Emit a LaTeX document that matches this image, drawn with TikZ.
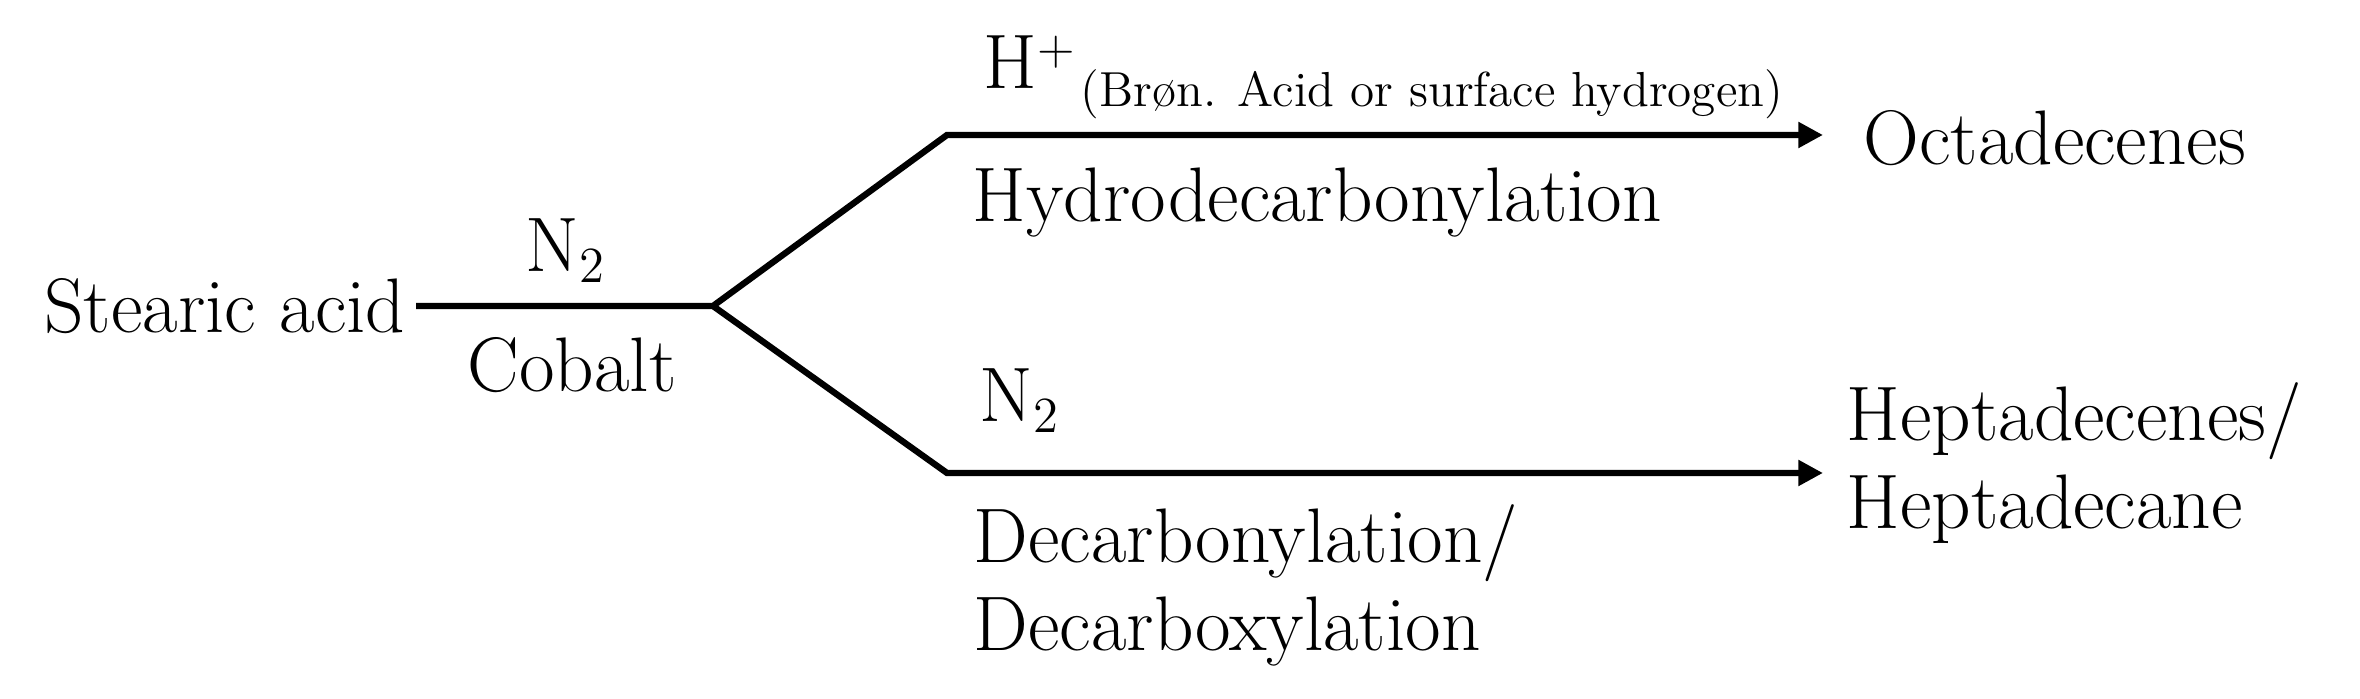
\documentclass[tikz,border=0pt]{standalone}
\usetikzlibrary{arrows.meta}

\begin{document}
\begin{tikzpicture}[
		conn/.style = {draw=black, line width=1.8pt},
		lbl/.style = {inner sep=0pt, font=\fontsize{22}{25.3}\selectfont},
		prod/.style = {lbl, align=left},
		tip/.style = {-{Triangle[length=7pt, width=7pt]}}
                    ]
		\useasboundingbox (0,0) rectangle (23.6,6.99);

		\coordinate (br) at (7.13,3.93);
		\coordinate (uc) at (9.47,5.64);
		\coordinate (ut) at (18.23,5.64);
		\coordinate (lc) at (9.47,2.26);
		\coordinate (lt) at (18.23,2.26);

		\node(SA) [lbl, inner xsep=1mm, anchor=east] at (4.16,3.93) {Stearic acid};
		\node(N2a) [lbl, anchor=base] at (5.66,4.27) {N$_2$};
		\node(Co) [lbl, anchor=base] at (5.72,3.07) {Cobalt};

		\node(Hp) [lbl, anchor=base west] at (9.83,6.10)
			{H\raisebox{0.24cm}{\fontsize{14}{14}\selectfont +}\hspace{0.06cm}%
			 \raisebox{-0.18cm}{\fontsize{14}{16}\selectfont (Brøn. Acid or surface hydrogen)}};
		\node(HD) [lbl, anchor=base west] at (9.72,4.77) {Hydrodecarbonylation};
		\node(OD) [lbl, anchor=base west] at (18.63,5.34) {Octadecenes};

		\node(N2b) [lbl, anchor=base west] at (9.79,2.77) {N$_2$};
		% base of a two-line node is its last line
		\node(HP) [prod, anchor=base west] at (18.46,1.70) {Heptadecenes/\\Heptadecane};
		\node(DC) [prod, anchor=base west] at (9.73,0.48) {Decarbonylation/\\Decarboxylation};

		\draw[conn, tip] (SA.east) -- (br) -- (uc) -- (ut);
		\draw[conn, tip] (br) -- (lc) -- (lt);
	\end{tikzpicture}
\end{document}
